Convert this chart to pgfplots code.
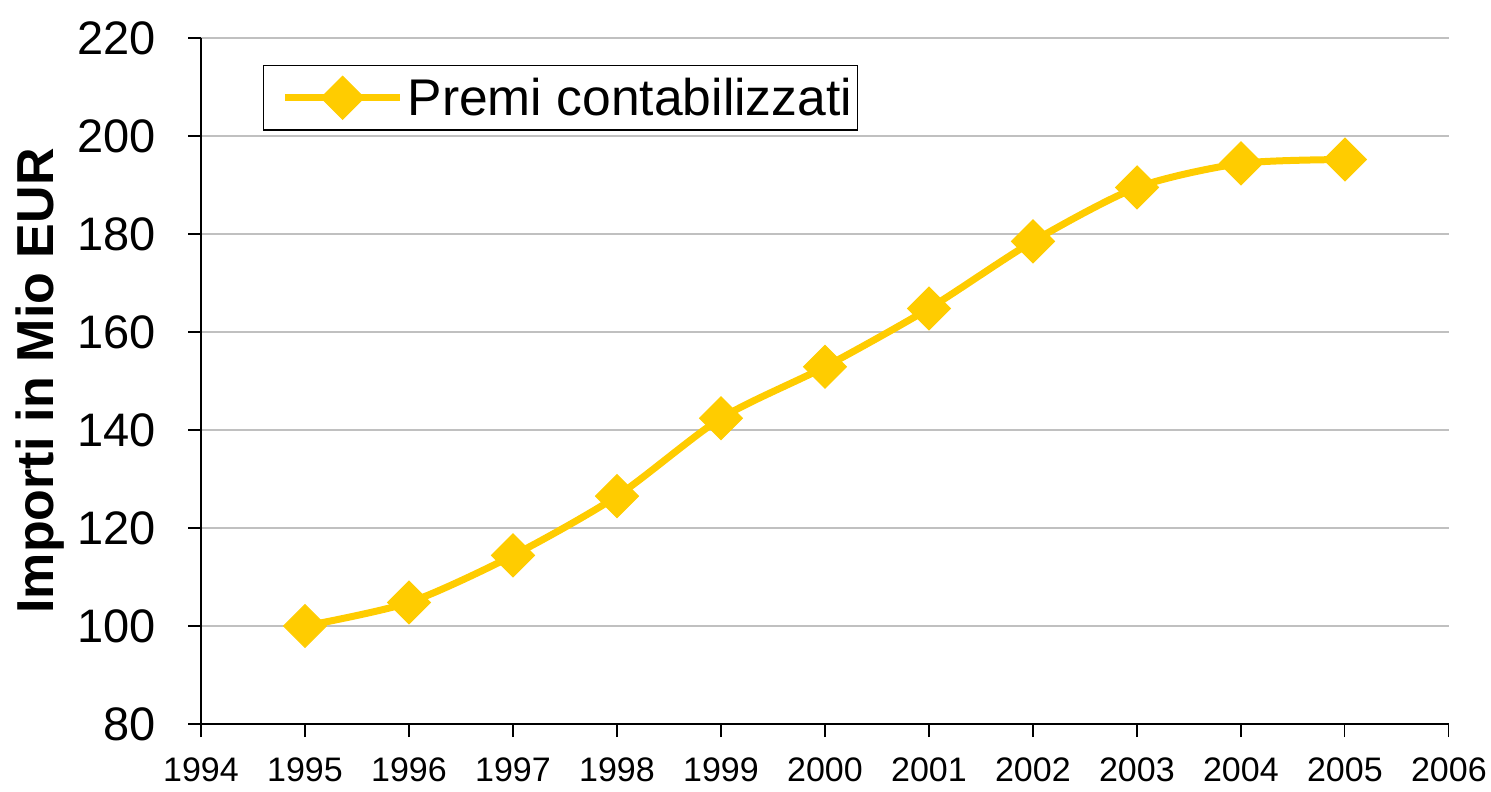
\documentclass[border=0pt]{standalone}
\usepackage{fontspec}
\setmainfont{Liberation Sans}
\usepackage{pgfplots}
\pgfplotsset{compat=1.18}
\definecolor{Gold}{HTML}{FFCC00}
\definecolor{GridGray}{HTML}{C0C0C0}

\begin{document}
\begin{tikzpicture}
\useasboundingbox (-100.5pt,-33.5pt) rectangle (645pt,362pt);
\begin{axis}[scale only axis,width=624pt,height=343pt,
  xmin=1994,xmax=2006,ymin=80,ymax=220,
  xtick={1994,...,2006},ytick={80,100,...,220},
  axis x line*=bottom,axis y line*=left,
  axis line style={black,line width=0.6pt},
  x tick label style={font=\fontsize{17}{17}\selectfont,/pgf/number format/1000 sep={},yshift=-7pt},
  y tick label style={font=\fontsize{23.5}{23.5}\selectfont,xshift=-12.5pt},
  /pgf/number format/assume math mode=true,
  tick align=outside,major tick length=6.5pt,
  x tick style={black,line width=0.6pt},y tick style={black,line width=0.6pt},
  ymajorgrids,grid style={GridGray,line width=0.6pt},
  ylabel={\bfseries Importi in Mio EUR},
  ylabel style={font=\fontsize{26}{26}\selectfont,at={(axis description cs:-0.129,0.5)},anchor=center},
  legend style={at={(axis description cs:0.0497,0.9606)},anchor=north west,
    draw=black,line width=0.6pt,font=\fontsize{25.8}{26}\selectfont,
    inner xsep=0.5pt,inner ysep=4pt,legend cell align=left},
  legend image code/.code={\path (-8.5pt,0pt);\draw[#1,mark repeat=2,mark phase=2] plot coordinates {(0pt,0pt) (28.75pt,0pt) (57.5pt,0pt)};},
]
\addplot[Gold,line width=3.5pt,smooth,tension=0.45,mark=square*,mark size=7.6pt,
  mark options={rotate=45,fill=Gold,draw=Gold,line width=0.5pt}]
  coordinates {(1995,100.0) (1996,104.8) (1997,114.4) (1998,126.5) (1999,142.4)
  (2000,152.9) (2001,164.8) (2002,178.5) (2003,189.5) (2004,194.4) (2005,195.2)};
\addlegendentry{Premi contabilizzati}
\end{axis}
\end{tikzpicture}
\end{document}
